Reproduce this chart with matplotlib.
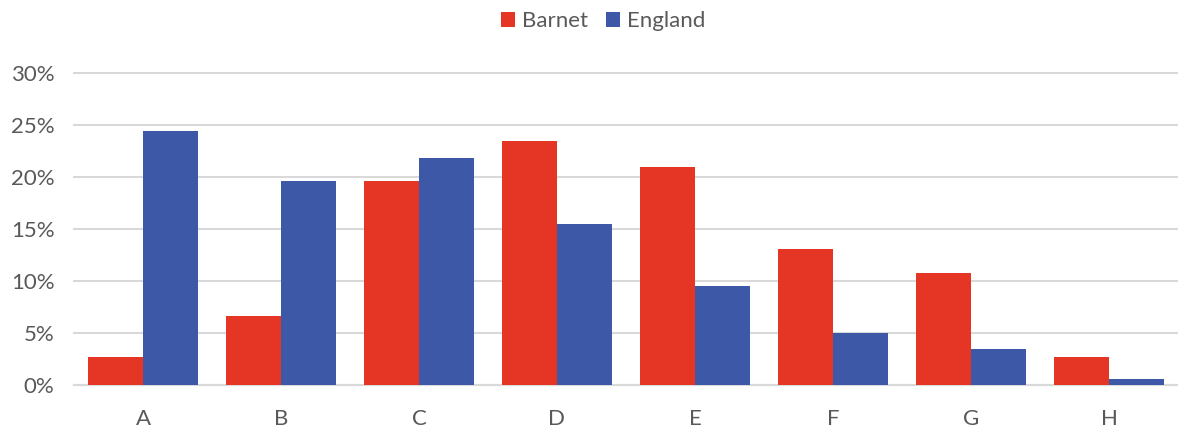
import matplotlib.pyplot as plt
import numpy as np
from matplotlib.ticker import PercentFormatter

categories = ['A', 'B', 'C', 'D', 'E', 'F', 'G', 'H']
barnet = [2.7, 6.6, 19.6, 23.5, 21.0, 13.1, 10.8, 2.7]
england = [24.4, 19.6, 21.8, 15.5, 9.5, 5.0, 3.5, 0.6]
yticks = [0, 5, 10, 15, 20, 25, 30]

red = '#E53524'
blue = '#3C58A6'
text_grey = '#595959'
grid_grey = '#D9D9D9'

plt.rcParams['font.family'] = ['Lato', 'DejaVu Sans']

fig = plt.figure(figsize=(11.78, 4.28), dpi=100)
ax = fig.add_axes([74 / 1178, 1 - 385 / 428, 1 - 74 / 1178, 312 / 428])

x = np.arange(len(categories))
w = 0.4
ax.bar(x - w / 2, barnet, w, color=red, label='Barnet', zorder=3)
ax.bar(x + w / 2, england, w, color=blue, label='England', zorder=3)

ax.set_xlim(-0.5, len(categories) - 0.5)
ax.set_ylim(0, 30)
ax.set_yticks(yticks)
ax.yaxis.set_major_formatter(PercentFormatter(decimals=0))
ax.set_xticks(x)
ax.set_xticklabels(categories)

ax.grid(axis='y', color=grid_grey, linewidth=1.5, zorder=0)
for s in ['top', 'right', 'left']:
    ax.spines[s].set_visible(False)
ax.spines['bottom'].set_color(grid_grey)
ax.spines['bottom'].set_linewidth(1.5)
for line in ax.get_ygridlines():
    line.set_clip_on(False)

ax.tick_params(axis='both', length=0, labelsize=16, labelcolor=text_grey)
ax.tick_params(axis='y', pad=14)
ax.tick_params(axis='x', pad=17.5)

fig.legend(loc='center', bbox_to_anchor=(0.5 + 14 / 1178, 1 - 21 / 428), ncol=2, frameon=False,
           fontsize=16, labelcolor=text_grey, handlelength=0.65, handleheight=0.65,
           handletextpad=0.3, columnspacing=0.8)

fig.savefig('out.png', dpi=100)
